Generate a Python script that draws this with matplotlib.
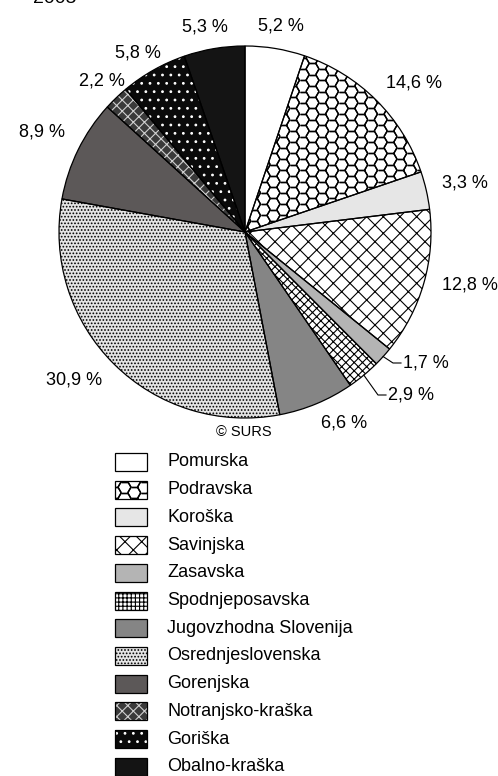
import numpy as np
import matplotlib
matplotlib.use("Agg")
import matplotlib.pyplot as plt
from matplotlib.patches import Rectangle
from matplotlib.collections import LineCollection

plt.rcParams['font.family'] = ['Liberation Sans', 'DejaVu Sans']
plt.rcParams['hatch.linewidth'] = 0.8

# data
regions = ["Pomurska", "Podravska", "Koroška", "Savinjska", "Zasavska",
           "Spodnjeposavska", "Jugovzhodna Slovenija", "Osrednjeslovenska",
           "Gorenjska", "Notranjsko-kraška", "Goriška", "Obalno-kraška"]
shares = [5.2, 14.6, 3.3, 12.8, 1.7, 2.9, 6.6, 30.9, 8.9, 2.2, 5.8, 5.3]
year = "2005"

# styles: face colour, hatch, hatch colour
faces = ["white", "white", "#e6e6e6", "white", "#b4b4b4", "white",
         "#858585", "#e4e4e4", "#5c5858", "#3a3a3a", "#0a0a0a", "#141414"]
hatches = [None, None, None, "xx", None, "xxxx", None, ".....", None, "xxx", "..", None]
hatch_cols = ["black", "black", "black", "black", "black", "black",
              "black", "black", "black", "#d0d0d0", "white", "black"]
legend_hatches = [None, None, None, "xx", None, "++++", None, ".....", None, "xxx", "..", None]

W, H = 498, 776
cx, cy, R = 245, H - 232, 186

# label positions (pixels from top-left) and leader flags
label_xy = [(281, 26), (414, 83), (465, 183), (470, 285), (425, 363), (410, 395),
            (344, 423), (74, 380), (42, 132), (102, 81), (138, 53), (205, 27)]
leader = [False, False, False, False, True, True, False, False, False, False, False, False]

fig = plt.figure(figsize=(W / 100, H / 100), dpi=100)
ax = fig.add_axes([0, 0, 1, 1])

wedges, _ = ax.pie(shares, startangle=90, counterclock=False, center=(cx, cy),
                   radius=R, colors=faces, wedgeprops=dict(linewidth=0))
for w, h, hc in zip(wedges, hatches, hatch_cols):
    if h:
        w.set_hatch(h)
        w.set_edgecolor(hc)
        w.set_linewidth(0)


def hex_lines(x0, x1, y0, y1, s):
    segs = []
    dx, dy = 3 * s, np.sqrt(3) * s
    for i in range(int((x1 - x0) / dx) + 3):
        for j in range(int((y1 - y0) / dy) + 3):
            for off in (0, 1):
                hx = x0 + i * dx + off * 1.5 * s
                hy = y0 + j * dy + off * dy / 2
                pts = [(hx + s * np.cos(a), hy + s * np.sin(a))
                       for a in np.radians(np.arange(0, 361, 60))]
                segs += [[pts[k], pts[k + 1]] for k in range(6)]
    return segs


# honeycomb fill for Podravska
hc_pie = LineCollection(hex_lines(cx - R, cx + R, cy - R, cy + R, 6.5),
                        colors="black", linewidths=1.0)
ax.add_collection(hc_pie)
hc_pie.set_clip_path(wedges[1])

ax.pie(shares, startangle=90, counterclock=False, center=(cx, cy), radius=R,
       wedgeprops=dict(fill=False, edgecolor="black", linewidth=0.9))

for w, val, (lx, ly), ld in zip(wedges, shares, label_xy, leader):
    txt = f"{val:.1f} %".replace(".", ",")
    if ld:
        th = np.radians((w.theta1 + w.theta2) / 2)
        ex, ey = cx + R * np.cos(th), cy + R * np.sin(th)
        endx = lx - 24
        ax.plot([ex, endx - 8, endx], [ey, H - ly, H - ly], color="black", lw=0.8)
        ax.text(endx + 2, H - ly, txt, ha="left", va="center", fontsize=13)
    else:
        ax.text(lx, H - ly, txt, ha="center", va="center", fontsize=13)

ax.text(244, H - 432, "© SURS", ha="center", va="center", fontsize=10.5)
ax.text(55, H - 3, year, ha="center", va="baseline", fontsize=14)

# legend
bx, bw, bh = 115, 32, 18
for i, name in enumerate(regions):
    yc = H - (462 + i * 27.7)
    face = Rectangle((bx, yc - bh / 2), bw, bh, facecolor=faces[i], linewidth=0)
    if legend_hatches[i]:
        face.set_hatch(legend_hatches[i])
        face.set_edgecolor(hatch_cols[i])
        face.set_linewidth(0)
    ax.add_patch(face)
    if i == 1:
        hc_leg = LineCollection(hex_lines(bx - 10, bx + bw + 10, yc - 20, yc + 20, 6.5),
                                colors="black", linewidths=1.0)
        ax.add_collection(hc_leg)
        hc_leg.set_clip_path(face)
    ax.add_patch(Rectangle((bx, yc - bh / 2), bw, bh, fill=False,
                           edgecolor="black", linewidth=0.9))
    ax.text(167, yc, name, ha="left", va="center", fontsize=13)

ax.set_xlim(0, W)
ax.set_ylim(0, H)
ax.axis("off")
fig.savefig("out.png", dpi=100)
